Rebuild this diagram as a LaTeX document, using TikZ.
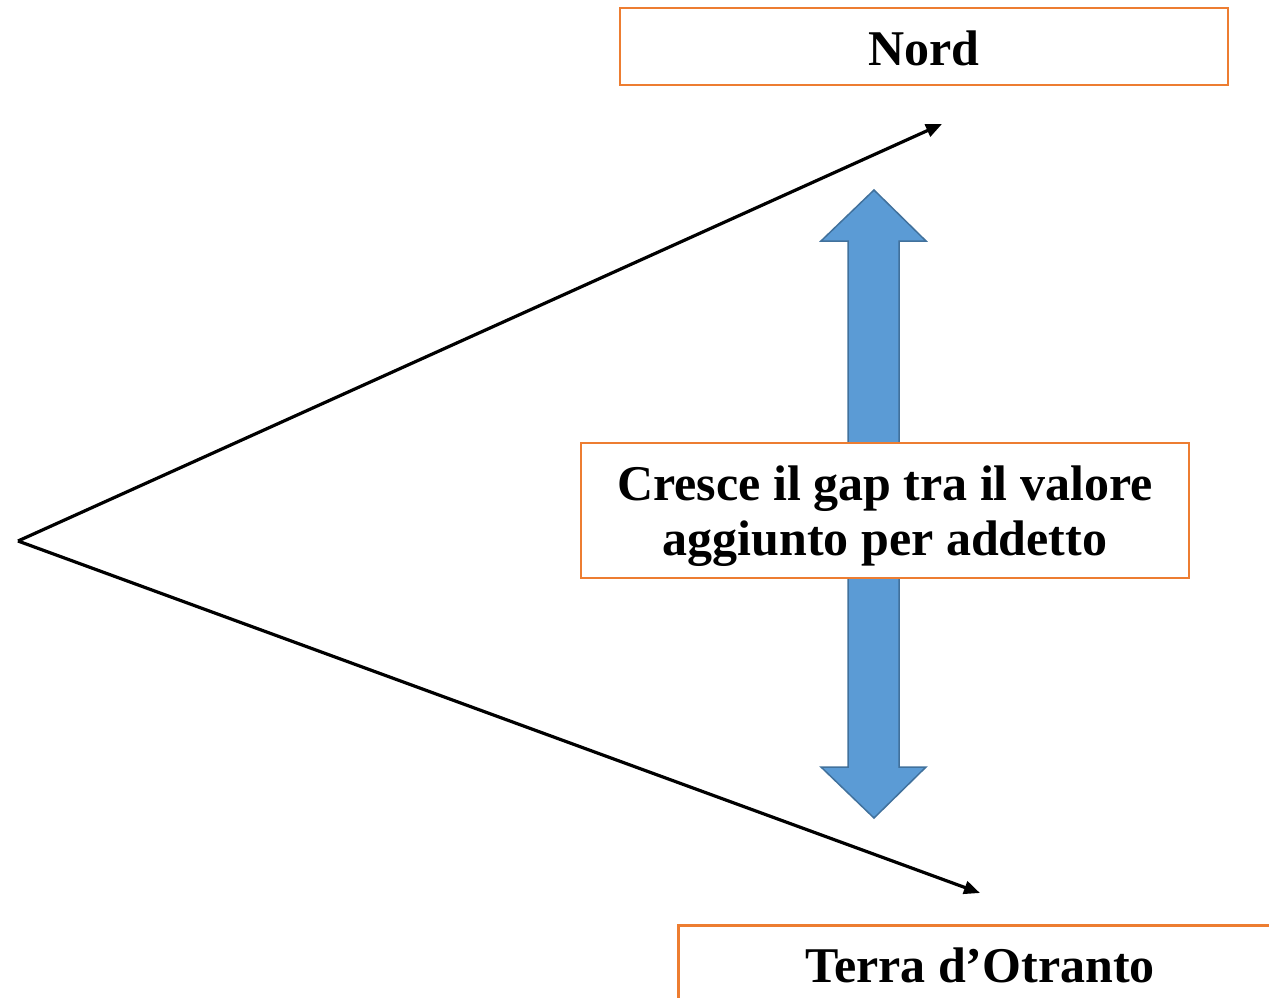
\documentclass[tikz,border=0pt]{standalone}
\usepackage{fontspec}
\setmainfont{Liberation Serif}
\usetikzlibrary{arrows.meta}
\definecolor{boxorange}{HTML}{ED7D31}
\definecolor{arrowfill}{HTML}{5B9BD5}
\definecolor{arrowdraw}{HTML}{41719C}
\begin{document}
\begin{tikzpicture}[x=1pt,y=-1pt,
  labelbox/.style={draw=boxorange,line width=2.8pt,fill=white,inner sep=0pt,
    font=\fontsize{50}{55}\selectfont\bfseries,align=center},
  trendline/.style={line width=3.2pt,-{Triangle[length=16pt,width=13pt]}}]
\useasboundingbox (0,0) rectangle (1269,997);
% double arrow
\draw[fill=arrowfill,draw=arrowdraw,line width=1.5pt,line join=miter]
  (874,190) -- (926,241) -- (899,241) -- (899,767) -- (926,767) -- (874,818)
  -- (821,767) -- (848,767) -- (848,241) -- (821,241) -- cycle;
% boxes
\node[labelbox,minimum width=608pt,minimum height=77pt] (nord) at (924,46.5) {\rule{0pt}{38pt}Nord};
\node[labelbox,minimum width=608pt,minimum height=135pt] (gap) at (885,510.5)
  {\rule{0pt}{47pt}Cresce il gap tra il valore\\aggiunto per addetto};
\begin{scope}
\clip (0,0) rectangle (1269,997);
\node[labelbox,minimum width=620pt,minimum height=120pt,anchor=north west,
  text depth=0pt] (terra) at (677,924) {};
\end{scope}
\node[font=\fontsize{50}{55}\selectfont\bfseries,anchor=base,inner sep=0pt] (terratext) at (980,982) {Terra d’Otranto};
% lines
\coordinate (apex) at (18,541);
\coordinate (top) at (942,124);
\coordinate (bot) at (980,893);
\draw[trendline] (apex) -- (top);
\draw[trendline] (apex) -- (bot);
\end{tikzpicture}
\end{document}
